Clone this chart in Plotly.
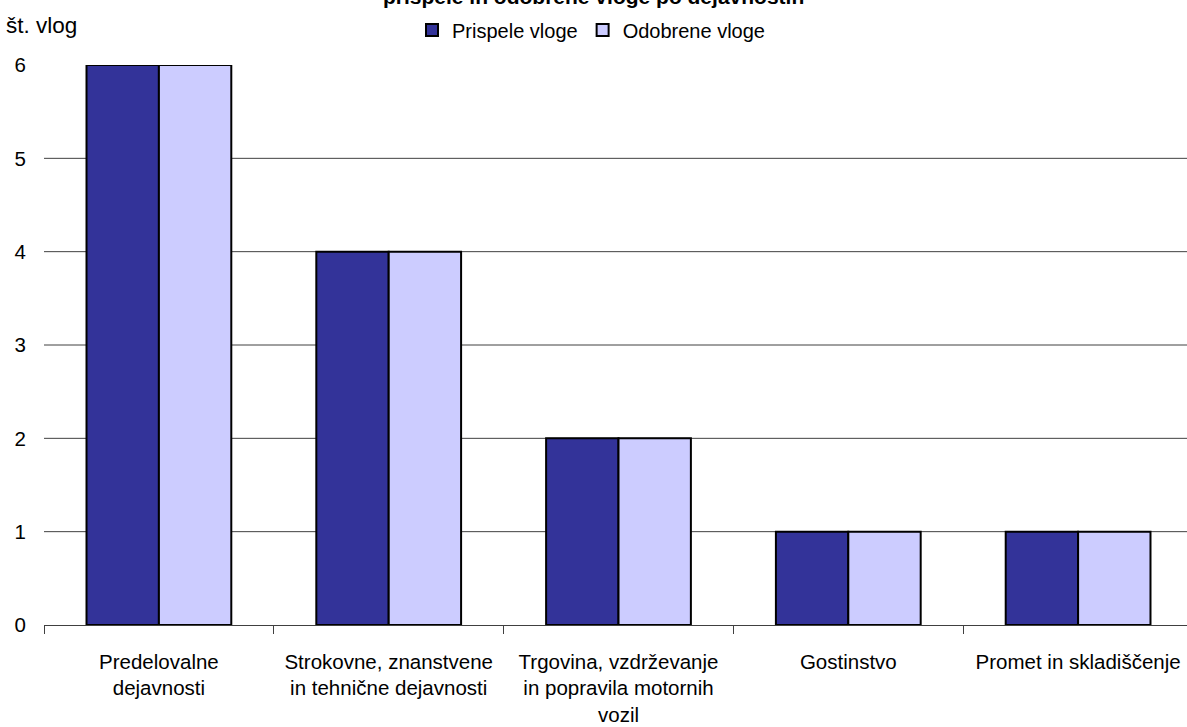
import plotly.graph_objects as go

categories = [
    "Predelovalne<br>dejavnosti",
    "Strokovne, znanstvene<br>in tehnične dejavnosti",
    "Trgovina, vzdrževanje<br>in popravila motornih<br>vozil",
    "Gostinstvo",
    "Promet in skladiščenje",
]
prispele = [6, 4, 2, 1, 1]
odobrene = [6, 4, 2, 1, 1]
y_ticks = [0, 1, 2, 3, 4, 5, 6]
grid_vals = [1, 2, 3, 4, 5]

title_text = "prispele in odobrene vloge po dejavnostih"
y_title = "št. vlog"

FONT = "Liberation Sans, Arial, sans-serif"
W, H = 1187, 727
ML, MR, MT, MB = 44, 0, 65, 102
cat_px = 229.8
plot_w = W - ML - MR
plot_h = H - MT - MB

fig = go.Figure()
fig.add_trace(go.Bar(
    x=categories, y=prispele, name="Prispele vloge",
    marker=dict(color="#333399", line=dict(color="#000000", width=2)),
))
fig.add_trace(go.Bar(
    x=categories, y=odobrene, name="Odobrene vloge",
    marker=dict(color="#CCCCFF", line=dict(color="#000000", width=2)),
))

for v in grid_vals:
    fig.add_shape(type="line", xref="paper", yref="y", x0=0, x1=1, y0=v, y1=v,
                  line=dict(color="#404040", width=1), layer="below")

fig.update_layout(
    width=W, height=H,
    margin=dict(l=ML, r=MR, t=MT, b=MB, pad=0),
    paper_bgcolor="white", plot_bgcolor="white",
    font=dict(family=FONT, size=20.5, color="#000000"),
    barmode="group", bargap=0.37, bargroupgap=0,
    showlegend=True,
    legend=dict(orientation="h", x=(591 - ML) / plot_w, xanchor="center",
                y=(H - MB - 30) / plot_h, yanchor="middle",
                font=dict(family=FONT, size=20), itemwidth=30,
                bgcolor="rgba(0,0,0,0)"),
    xaxis=dict(
        type="category", range=[-0.5, -0.5 + plot_w / cat_px],
        showline=True, linecolor="#404040", linewidth=1,
        ticks="outside", ticklen=8, tickcolor="#404040", tickwidth=1,
        tickson="boundaries", showgrid=False,
        tickfont=dict(family=FONT, size=20.5), ticklabelstandoff=18,
    ),
    yaxis=dict(
        range=[0, 6], tickvals=y_ticks, showgrid=False, zeroline=False,
        showline=False, ticks="", ticklabelstandoff=17,
        tickfont=dict(family=FONT, size=20.5),
    ),
)

fig.add_annotation(
    text="<b>" + title_text + "</b>", xref="paper", yref="paper",
    x=(593 - ML) / plot_w, xanchor="center",
    y=(H - MB - 10) / plot_h, yanchor="bottom",
    showarrow=False, font=dict(family=FONT, size=21, color="#000000"),
)
fig.add_annotation(
    text=y_title, xref="paper", yref="paper",
    x=(4 - ML) / plot_w, xanchor="left",
    y=(H - MB - 25) / plot_h, yanchor="middle",
    showarrow=False, font=dict(family=FONT, size=22.5, color="#000000"),
)

fig.write_html(
    "out.html",
    config={"displayModeBar": False},
    post_script="document.body.style.margin='0';document.body.style.overflow='hidden';",
)
